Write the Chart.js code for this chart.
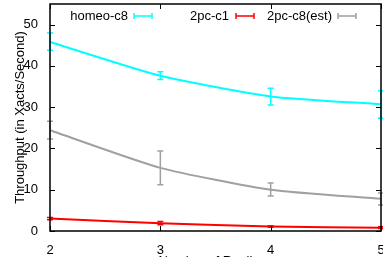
<!DOCTYPE html>
<html>
<head>
<meta charset="utf-8">
<script src="https://cdn.jsdelivr.net/npm/chart.js@4/dist/chart.umd.min.js"></script>
<style>
  html, body { margin: 0; padding: 0; background: #fff; overflow: hidden; }
  #wrap { width: 383px; height: 257px; }
</style>
</head>
<body>
<div id="wrap"><canvas id="chart"></canvas></div>
<script>
// Replicas on x, throughput on y
const replicas = ['2', '3', '4', '5'];
const yTicks = [0, 10, 20, 30, 40, 50];

const homeoC8 = [45.8, 37.6, 32.6, 30.7];
const homeoC8Lo = [43.8, 36.7, 30.5, 27.3];
const homeoC8Hi = [48.0, 38.6, 34.6, 34.0];

const twoPcC1 = [3.0, 1.9, 1.1, 0.8];
const twoPcC1Lo = [2.7, 1.5, 0.9, 0.6];
const twoPcC1Hi = [3.3, 2.3, 1.3, 1.0];

const twoPcC8 = [24.4, 15.3, 10.0, 7.8];
const twoPcC8Lo = [22.3, 11.2, 8.5, 6.3];
const twoPcC8Hi = [26.6, 19.4, 11.6, 9.2];

const FONT = '"Liberation Sans", Arial, sans-serif';

// error bars + gnuplot-style inside ticks, border, legend, axis titles
const gnuplotBits = {
    id: 'gnuplotBits',
    afterDatasetsDraw(chart) {
        const ctx = chart.ctx;
        const xs = chart.scales.x, ys = chart.scales.y;
        const a = chart.chartArea;
        ctx.save();

        // error bars
        chart.data.datasets.forEach(ds => {
            ctx.strokeStyle = ds.borderColor;
            ctx.lineWidth = 1.5;
            ds.data.forEach((v, i) => {
                const px = xs.getPixelForValue(i);
                const lo = ys.getPixelForValue(ds.errLo[i]);
                const hi = ys.getPixelForValue(ds.errHi[i]);
                ctx.beginPath();
                ctx.moveTo(px, lo); ctx.lineTo(px, hi);
                ctx.moveTo(px - 3, lo); ctx.lineTo(px + 3, lo);
                ctx.moveTo(px - 3, hi); ctx.lineTo(px + 3, hi);
                ctx.stroke();
            });
        });

        // border and ticks
        ctx.strokeStyle = '#000';
        ctx.lineWidth = 1.5;
        ctx.strokeRect(a.left, a.top, a.right - a.left, a.bottom - a.top);
        ctx.lineWidth = 1;
        yTicks.forEach(t => {
            const py = Math.round(ys.getPixelForValue(t)) + 0.5;
            ctx.beginPath();
            ctx.moveTo(a.left, py); ctx.lineTo(a.left + 5, py);
            ctx.moveTo(a.right, py); ctx.lineTo(a.right - 5, py);
            ctx.stroke();
        });
        replicas.forEach((r, i) => {
            const px = Math.round(xs.getPixelForValue(i)) + 0.5;
            ctx.beginPath();
            ctx.moveTo(px, a.bottom); ctx.lineTo(px, a.bottom - 5);
            ctx.moveTo(px, a.top); ctx.lineTo(px, a.top + 5);
            ctx.stroke();
        });

        // legend
        ctx.font = '13px ' + FONT;
        ctx.textAlign = 'right';
        ctx.textBaseline = 'middle';
        const legendY = 16;
        const items = [
            { x: 128, s: 134 }, { x: 229, s: 236 }, { x: 332, s: 338 }
        ];
        chart.data.datasets.forEach((ds, k) => {
            const it = items[k];
            ctx.fillStyle = '#000';
            ctx.fillText(ds.label, it.x, legendY);
            ctx.strokeStyle = ds.borderColor;
            ctx.lineWidth = 1.5;
            ctx.beginPath();
            ctx.moveTo(it.s, legendY); ctx.lineTo(it.s + 18, legendY);
            ctx.moveTo(it.s, legendY - 3); ctx.lineTo(it.s, legendY + 3);
            ctx.moveTo(it.s + 18, legendY - 3); ctx.lineTo(it.s + 18, legendY + 3);
            ctx.stroke();
        });

        // axis titles
        ctx.fillStyle = '#000';
        ctx.textAlign = 'center';
        ctx.fillText('Number of Replicas', (a.left + a.right) / 2, 261);
        ctx.translate(20, (a.top + a.bottom) / 2);
        ctx.rotate(-Math.PI / 2);
        ctx.fillText('Throughput (in Xacts/Second)', 0, 0);
        ctx.restore();
    }
};

const line = (label, data, lo, hi, color) => ({
    label, data, errLo: lo, errHi: hi,
    borderColor: color,
    backgroundColor: color,
    borderWidth: 2,
    pointRadius: 0,
    tension: 0.2,
    fill: false
});

new Chart(document.getElementById('chart'), {
    type: 'line',
    data: {
        labels: replicas,
        datasets: [
            line('homeo-c8', homeoC8, homeoC8Lo, homeoC8Hi, '#00ffff'),
            line('2pc-c1', twoPcC1, twoPcC1Lo, twoPcC1Hi, '#ff0000'),
            line('2pc-c8(est)', twoPcC8, twoPcC8Lo, twoPcC8Hi, '#a0a0a0')
        ]
    },
    options: {
        responsive: true,
        maintainAspectRatio: false,
        animation: false,
        layout: { padding: { top: 4, right: 2, left: 0, bottom: 0 } },
        plugins: { legend: { display: false }, tooltip: { enabled: false } },
        scales: {
            x: {
                offset: false,
                grid: { display: false },
                border: { display: false },
                ticks: { color: '#000', font: { size: 13, family: FONT }, padding: 4, maxRotation: 0 },
                afterFit: s => { s.height = 26; s.paddingLeft = 0; s.paddingRight = 0; }
            },
            y: {
                min: 0, max: 55,
                grid: { display: false },
                border: { display: false },
                afterBuildTicks: s => { s.ticks = yTicks.map(v => ({ value: v })); },
                ticks: { color: '#000', font: { size: 13, family: FONT }, padding: 4 },
                afterFit: s => { s.width = 50; s.paddingTop = 0; s.paddingBottom = 0; }
            }
        }
    },
    plugins: [gnuplotBits]
});
</script>
</body>
</html>
